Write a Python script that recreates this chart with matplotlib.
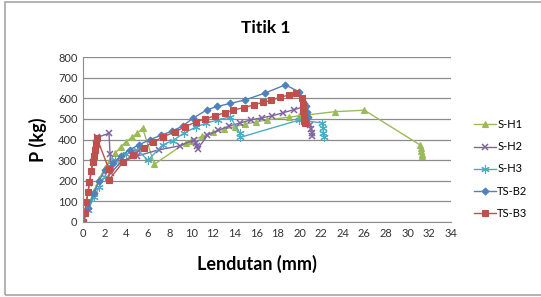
import matplotlib.pyplot as plt
from matplotlib.patches import Rectangle

plt.rcParams['font.family'] = ['Lato', 'DejaVu Sans']

# S-H1
sh1_x = [0, 0.5, 1.0, 1.5, 2.0, 2.5, 3.0, 3.5, 4.0, 4.5, 5.0, 5.5, 6.6,
         9.5, 10.0, 11.0, 12.0, 13.0, 14.0, 15.0, 16.0, 17.0, 19.0, 20.0,
         23.3, 26.0, 31.1, 31.2, 31.2, 31.3, 31.3]
sh1_y = [0, 80, 150, 210, 260, 300, 335, 365, 390, 410, 430, 455, 280,
         385, 395, 415, 435, 450, 462, 475, 485, 495, 508, 515,
         535, 542, 375, 360, 345, 330, 320]

# S-H2
sh2_x = [0, 0.3, 0.6, 0.9, 1.2, 1.3, 2.4, 2.5, 2.6, 3.5, 5.0, 7.0, 9.0,
         10.3, 10.4, 10.5, 10.6, 11.5, 12.5, 13.5, 14.5, 15.5, 16.5, 17.5,
         18.5, 19.5, 20.5, 21.0, 21.1, 21.2, 21.2]
sh2_y = [0, 90, 190, 290, 380, 410, 430, 330, 240, 290, 320, 350, 370,
         400, 385, 370, 355, 420, 445, 465, 480, 495, 505, 515,
         530, 545, 560, 470, 450, 430, 415]

# S-H3
sh3_x = [0, 0.5, 1.0, 1.5, 2.0, 2.5, 3.0, 4.0, 5.0, 6.0, 7.4, 8.3, 9.3,
         10.4, 11.4, 12.5, 13.6, 14.5, 14.5, 20.0, 22.1, 22.2, 22.2, 22.3]
sh3_y = [0, 60, 120, 170, 220, 270, 300, 330, 350, 300, 375, 395, 430,
         460, 480, 495, 510, 430, 410, 495, 480, 455, 430, 410]

# TS-B2
tsb2_x = [0, 0.5, 1.0, 1.5, 2.0, 2.8, 3.5, 4.3, 5.2, 6.2, 7.2, 8.2, 9.2,
          10.2, 11.5, 12.4, 13.6, 15.0, 16.8, 18.7, 20.0, 20.6, 20.7, 20.8]
tsb2_y = [0, 70, 140, 200, 250, 285, 320, 350, 375, 400, 420, 440, 465,
          505, 545, 560, 575, 592, 625, 665, 630, 560, 535, 510]

# TS-B3
tsb3_x = [0, 0.15, 0.3, 0.45, 0.6, 0.75, 0.9, 1.0, 1.1, 1.2, 1.3, 2.4,
          2.4, 3.7, 4.6, 5.6, 6.5, 7.4, 8.5, 9.4, 10.4, 11.3, 12.2, 13.1,
          13.9, 14.9, 15.8, 16.6, 17.4, 18.2, 19.0, 19.7, 20.2, 20.3, 20.3,
          20.4, 20.4, 20.5]
tsb3_y = [0, 45, 95, 145, 195, 245, 290, 320, 350, 380, 405, 255,
          205, 290, 325, 360, 388, 413, 437, 461, 485, 500, 515, 530,
          543, 555, 568, 580, 590, 605, 615, 625, 600, 570, 540,
          510, 490, 480]

series = [
    ('S-H1', sh1_x, sh1_y, '#9BBB59', '^', 4.5),
    ('S-H2', sh2_x, sh2_y, '#8064A2', 'x', 5),
    ('S-H3', sh3_x, sh3_y, '#4BACC6', (6, 2, 0), 6),
    ('TS-B2', tsb2_x, tsb2_y, '#4F81BD', 'D', 3.5),
    ('TS-B3', tsb3_x, tsb3_y, '#C0504D', 's', 5),
]

fig = plt.figure(figsize=(5.41, 2.97), dpi=100)
fig.patches.append(Rectangle((5 / 541, 2 / 297), 1.0, 293 / 297,
                             transform=fig.transFigure, fill=False,
                             edgecolor='#a6a6a6', linewidth=1.2))

ax = fig.add_axes([83 / 541, 1 - 222 / 297, 368 / 541, 165 / 297])

for name, xs, ys, col, mk, ms in series:
    ax.plot(xs, ys, color=col, marker=mk, markersize=ms, linewidth=1,
            markeredgewidth=1.1 if mk == 'x' else 0.8, label=name)

ax.set_xlim(0, 34)
ax.set_ylim(0, 800)
ax.set_xticks(range(0, 35, 2))
ax.set_yticks(range(0, 801, 100))
ax.tick_params(length=0, labelsize=8, colors='#333333', pad=4)
ax.grid(axis='y', color='#8c8c8c', linewidth=0.9)
ax.set_axisbelow(True)
for s in ['top', 'right']:
    ax.spines[s].set_visible(False)
ax.spines['left'].set_color('#8c8c8c')
ax.spines['bottom'].set_color('#8c8c8c')

fig.text(266 / 541, 1 - 28 / 297, 'Titik 1', fontsize=12.5,
         fontweight='bold', ha='center', va='center')
fig.text(257 / 541, 1 - 264 / 297, 'Lendutan (mm)', fontsize=13,
         fontweight='bold', ha='center', va='center')
fig.text(38 / 541, 1 - 140 / 297, 'P (kg)', fontsize=13, fontweight='bold',
         ha='center', va='center', rotation=90)

fig.legend(loc='center left', bbox_to_anchor=(474 / 541, 1 - 169 / 297),
           frameon=False, fontsize=8, handlelength=2.0, handletextpad=0.1,
           labelspacing=1.0, borderaxespad=0, borderpad=0)

fig.savefig('out.png', dpi=100)
